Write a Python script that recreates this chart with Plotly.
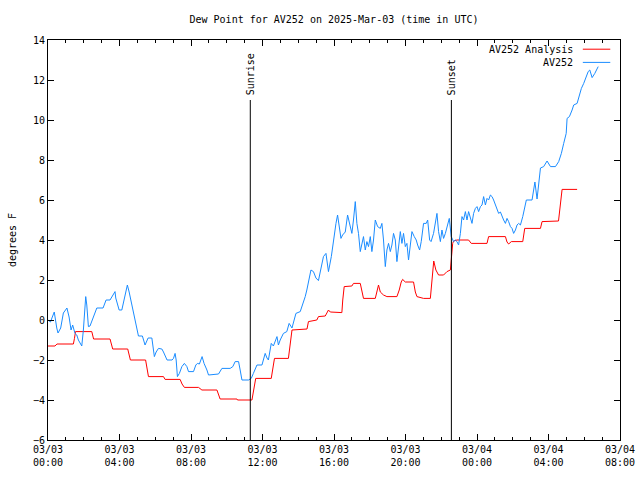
import pandas as pd
import plotly.graph_objects as go

# ---------------- data ----------------
start_time = "2025-03-03 00:00"
end_time = "2025-03-04 08:00"
sunrise_time = "2025-03-03 11:19"
sunset_time = "2025-03-03 22:34"

# AV252 observations (hours after 2025-03-03 00:00 UTC, degrees F)
blue_hours = [0.0, 0.14, 0.22, 0.35, 0.49, 0.56, 0.71, 0.86, 1.06, 1.18,
              1.29, 1.38, 1.51, 1.61, 1.70, 1.89, 1.98, 2.11, 2.17, 2.26,
              2.35, 2.59, 2.73, 3.08, 3.25, 3.47, 3.75, 3.79, 3.98, 4.13,
              4.27, 4.44, 4.54, 4.72, 4.91, 5.06, 5.28, 5.43, 5.60, 5.81,
              5.95, 6.05, 6.18, 6.37, 6.46, 6.61, 6.66, 6.94, 7.02, 7.11,
              7.17, 7.24, 7.35, 7.49, 7.63, 7.77, 7.86, 8.14, 8.27, 8.36,
              8.47, 8.62, 8.73, 8.89, 8.98, 9.54, 9.73, 10.19, 10.34, 10.47,
              10.66, 10.75, 10.85, 11.22, 11.37, 11.49, 11.69, 11.97, 12.15, 12.25,
              12.33, 12.49, 12.61, 12.81, 12.89, 12.99, 13.17, 13.36, 13.49, 13.65,
              13.73, 13.87, 14.11, 14.24, 14.39, 14.48, 14.61, 14.71, 14.85, 14.99,
              15.13, 15.29, 15.41, 15.55, 15.69, 15.85, 15.97, 16.11, 16.20, 16.29,
              16.39, 16.48, 16.63, 16.76, 16.87, 17.00, 17.09, 17.19, 17.28, 17.37,
              17.47, 17.56, 17.65, 17.75, 17.84, 17.93, 18.03, 18.12, 18.21, 18.31,
              18.44, 18.59, 18.68, 18.77, 18.87, 18.96, 19.05, 19.15, 19.24, 19.33,
              19.43, 19.52, 19.61, 19.71, 19.80, 19.89, 19.99, 20.08, 20.17, 20.27,
              20.36, 20.49, 20.60, 20.68, 20.79, 20.88, 21.01, 21.16, 21.24, 21.35,
              21.43, 21.57, 21.76, 21.85, 21.95, 22.04, 22.13, 22.23, 22.36, 22.45,
              22.56, 22.62, 22.69, 22.79, 22.88, 22.97, 23.07, 23.16, 23.25, 23.35,
              23.44, 23.53, 23.63, 23.72, 23.81, 23.91, 24.00, 24.09, 24.19, 24.28,
              24.37, 24.47, 24.56, 24.65, 24.75, 24.84, 24.93, 25.03, 25.12, 25.21,
              25.31, 25.40, 25.49, 25.59, 25.68, 25.77, 25.87, 25.96, 26.05, 26.15,
              26.24, 26.33, 26.43, 26.56, 26.67, 26.76, 27.08, 27.17, 27.24, 27.36,
              27.45, 27.55, 27.73, 27.92, 28.11, 28.39, 28.57, 28.72, 28.85, 28.99,
              29.04, 29.17, 29.32, 29.41, 29.60, 29.69, 29.84, 29.97, 30.11, 30.22,
              30.31, 30.44, 30.59, 30.78]
blue_vals = [0.0, -0.1, 0.1, 0.4, -0.4, -0.65, -0.4, 0.35, 0.6, 0.15,
             -0.5, -0.25, -0.67, -0.75, -1.0, -1.3, -0.5, 1.17, 0.75, -0.33,
             -0.3, 0.25, 0.6, 0.6, 1.0, 1.0, 1.42, 1.1, 0.5, 0.5,
             1.0, 1.75, 1.4, 0.6, -0.25, -0.8, -0.8, -1.25, -0.9, -0.9,
             -1.83, -1.6, -1.42, -1.45, -1.6, -1.92, -2.0, -2.0, -1.92, -1.67,
             -2.0, -2.83, -2.67, -2.33, -2.17, -2.33, -2.58, -2.58, -2.25, -2.17,
             -2.2, -1.83, -2.17, -2.5, -2.75, -2.7, -2.42, -2.42, -2.33, -2.08,
             -2.08, -2.5, -3.0, -3.0, -2.92, -2.67, -2.25, -2.25, -1.67, -1.9,
             -2.0, -1.17, -1.3, -0.83, -1.25, -1.0, -0.67, -0.58, -0.17, -0.4,
             -0.1, 0.33, 0.42, 0.75, 1.17, 1.5, 2.08, 2.5, 2.42, 2.1,
             1.97, 2.58, 3.17, 3.33, 2.42, 3.17, 4.0, 4.83, 5.25, 4.67,
             4.08, 4.25, 4.4, 5.25, 4.83, 4.33, 5.0, 5.92, 4.83, 4.33,
             3.42, 3.75, 4.17, 3.5, 3.92, 3.67, 4.17, 3.42, 4.0, 5.0,
             4.67, 4.58, 4.83, 4.0, 2.67, 3.5, 3.83, 3.42, 3.75, 4.33,
             4.0, 2.92, 3.75, 4.42, 3.83, 4.33, 3.67, 3.83, 3.0, 3.67,
             4.42, 4.17, 4.0, 3.75, 3.5, 3.92, 4.83, 4.83, 5.0, 4.0,
             3.92, 4.33, 5.33, 4.42, 3.92, 4.5, 4.08, 4.33, 4.83, 5.08,
             4.17, 4.08, 3.92, 4.0, 3.92, 3.75, 4.33, 5.17, 5.0, 5.42,
             5.0, 5.42, 5.1, 4.83, 5.33, 5.58, 5.67, 5.42, 5.67, 5.75,
             6.17, 5.75, 6.08, 6.0, 6.25, 6.17, 6.0, 5.75, 5.6, 5.33,
             5.4, 5.17, 5.0, 4.83, 5.08, 4.92, 4.67, 4.58, 4.33, 4.5,
             4.75, 4.83, 4.75, 5.17, 5.67, 6.0, 6.0, 6.42, 6.9, 6.05,
             6.8, 7.6, 7.67, 7.95, 7.67, 7.67, 7.92, 8.33, 8.83, 9.33,
             10.08, 10.17, 10.5, 10.75, 10.83, 11.17, 11.58, 11.83, 12.17, 12.42,
             12.5, 12.12, 12.33, 12.67]

# AV252 Analysis
red_hours = [0.0, 0.39, 0.50, 1.42, 1.48, 1.54, 2.45, 2.55, 3.47, 3.56,
             3.62, 4.46, 4.54, 4.61, 5.46, 5.54, 5.62, 6.46, 6.55, 7.39,
             7.50, 7.63, 8.42, 8.61, 9.45, 9.55, 9.63, 10.57, 10.60, 11.41,
             11.51, 11.62, 12.49, 12.57, 12.67, 13.45, 13.55, 13.65, 14.49, 14.57,
             15.04, 15.13, 15.51, 15.69, 15.79, 16.44, 16.49, 16.57, 17.00, 17.09,
             17.47, 17.56, 17.65, 18.31, 18.39, 18.49, 18.59, 18.68, 18.77, 18.96,
             19.52, 19.65, 19.76, 19.84, 19.99, 20.45, 20.55, 20.64, 21.01, 21.39,
             21.47, 21.58, 21.70, 21.85, 22.13, 22.32, 22.51, 22.56, 22.64, 22.69,
             22.88, 23.53, 23.68, 24.56, 24.65, 25.59, 25.68, 25.77, 25.92, 26.56,
             26.67, 27.55, 27.64, 28.56, 28.67, 28.76, 29.60]
red_vals = [-1.3, -1.3, -1.2, -1.2, -0.92, -0.58, -0.58, -0.95, -0.95, -1.25,
            -1.45, -1.45, -1.75, -2.0, -2.0, -2.5, -2.83, -2.83, -2.97, -2.97,
            -3.2, -3.37, -3.37, -3.5, -3.5, -3.75, -3.95, -3.95, -4.0, -4.0,
            -3.5, -2.92, -2.92, -2.4, -1.92, -1.92, -1.2, -0.5, -0.45, -0.08,
            0.0, 0.17, 0.2, 0.5, 0.4, 0.37, 1.0, 1.67, 1.7, 1.83,
            1.83, 1.4, 1.08, 1.08, 1.4, 1.75, 1.4, 1.3, 1.25, 1.17,
            1.17, 1.5, 1.9, 2.03, 1.9, 1.9, 1.4, 1.17, 1.08, 1.08,
            2.0, 2.95, 2.5, 2.25, 2.25, 2.42, 2.5, 3.17, 3.83, 3.95,
            4.0, 4.0, 3.83, 3.83, 4.17, 4.17, 3.9, 3.8, 3.92, 3.92,
            4.58, 4.58, 4.92, 4.95, 5.8, 6.53, 6.53]

tick_times = ["2025-03-03 00:00", "2025-03-03 04:00", "2025-03-03 08:00",
              "2025-03-03 12:00", "2025-03-03 16:00", "2025-03-03 20:00",
              "2025-03-04 00:00", "2025-03-04 04:00", "2025-03-04 08:00"]
tick_labels = ["03/03<br>00:00", "03/03<br>04:00", "03/03<br>08:00",
               "03/03<br>12:00", "03/03<br>16:00", "03/03<br>20:00",
               "03/04<br>00:00", "03/04<br>04:00", "03/04<br>08:00"]
y_ticks = [-6, -4, -2, 0, 2, 4, 6, 8, 10, 12, 14]

series_names = ["AV252 Analysis", "AV252"]
red_color = "#ff0000"
blue_color = "#1a8cff"
marker_top = 11  # height of sunrise/sunset lines

# ---------------- figure ----------------
base = pd.Timestamp(start_time)
blue_x = base + pd.to_timedelta(blue_hours, unit="h")
red_x = base + pd.to_timedelta(red_hours, unit="h")

FONT = "DejaVu Sans Mono"
TXT = dict(family=FONT, size=10, color="black")

fig = go.Figure()
fig.add_trace(go.Scatter(x=red_x, y=red_vals, mode="lines", name=series_names[0],
                         line=dict(color=red_color, width=1)))
fig.add_trace(go.Scatter(x=blue_x, y=blue_vals, mode="lines", name=series_names[1],
                         line=dict(color=blue_color, width=1)))

for t, label in [(sunrise_time, "Sunrise"), (sunset_time, "Sunset")]:
    fig.add_shape(type="line", xref="x", yref="y", x0=t, x1=t, y0=y_ticks[0], y1=marker_top,
                  line=dict(color="black", width=1))
    fig.add_annotation(x=t, y=marker_top, xref="x", yref="y", text=label, textangle=-90,
                       showarrow=False, xanchor="center", yanchor="bottom", yshift=3,
                       font=TXT)

# gnuplot-style legend: text right-aligned, sample line to its right
legend_rows = [(series_names[0], red_color, 0.977), (series_names[1], blue_color, 0.944)]
for name, color, yp in legend_rows:
    fig.add_annotation(x=0.921, y=yp, xref="paper", yref="paper", text=name, showarrow=False,
                       xanchor="right", yanchor="middle", font=TXT)
    fig.add_shape(type="line", xref="paper", yref="paper", x0=0.935, x1=0.983, y0=yp, y1=yp,
                  line=dict(color=color, width=1))

fig.update_layout(
    width=640, height=480,
    margin=dict(l=48, r=20, t=40, b=40, autoexpand=False),
    plot_bgcolor="white", paper_bgcolor="white",
    font=TXT,
    showlegend=False,
    title=dict(text="Dew Point for AV252 on 2025-Mar-03 (time in UTC)",
               xref="paper", x=0.5, xanchor="center",
               yref="container", y=0.96, yanchor="middle", automargin=False,
               font=TXT),
)
fig.update_xaxes(
    type="date", range=[start_time, end_time], automargin=False,
    tickmode="array", tickvals=tick_times, ticktext=tick_labels, tickfont=TXT,
    ticks="inside", ticklen=6, tickcolor="black",
    showline=True, linecolor="black", linewidth=1, mirror="ticks",
    showgrid=False, zeroline=False,
    minor=dict(ticks="inside", ticklen=3, tickcolor="black", dtick=3600000,
               tick0=start_time, showgrid=False),
)
fig.update_yaxes(
    range=[y_ticks[0], y_ticks[-1]], tickmode="array", tickvals=y_ticks, automargin=False,
    tickfont=TXT,
    ticks="inside", ticklen=6, tickcolor="black",
    showline=True, linecolor="black", linewidth=1, mirror="ticks",
    showgrid=False, zeroline=False,
    title=dict(text="degrees F", standoff=14, font=TXT),
)

fig.write_html("out.html", config={"displayModeBar": False},
               post_script="document.body.style.margin='0';document.body.style.overflow='hidden';")
